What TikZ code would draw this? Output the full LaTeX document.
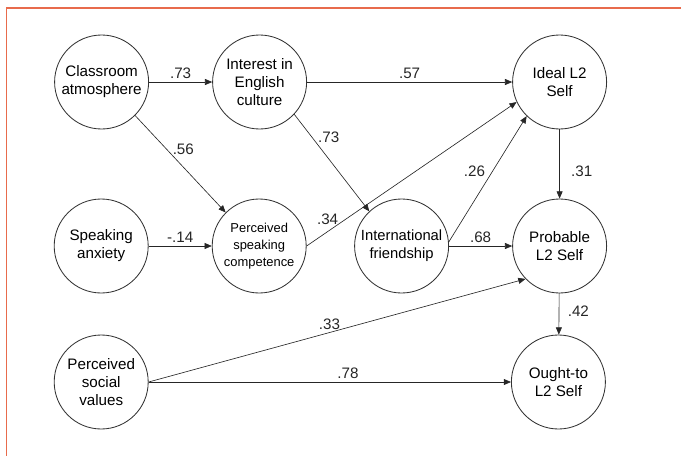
\documentclass[tikz,border=0pt]{standalone}
\usepackage{fontspec}
\setmainfont{Liberation Sans}
\usetikzlibrary{arrows.meta}
\definecolor{frameorange}{rgb}{0.91,0.42,0.30}
\definecolor{circlegray}{rgb}{0.20,0.20,0.20}
\tikzset{
  latent/.style={circle, draw=circlegray, line width=0.6pt, minimum size=2.35cm,
    inner sep=0pt, align=center, font=\fontsize{10.8}{12.8}\selectfont},
  path/.style={-{Triangle[length=1.8mm,width=1.5mm]}, line width=0.45pt, black!85},
  coef/.style={font=\fontsize{10.8}{12}\selectfont, inner sep=2pt}
}

\begin{document}
\begin{tikzpicture}
        \useasboundingbox (0,0) rectangle (17.025,-11.4);
        \draw[frameorange, line width=0.9pt] (0.17,-11.4) -- (0.17,-0.2) -- (17.025,-0.2);

        % predictors
        \node[latent] (class)    at (2.54,-2.05) {Classroom\\atmosphere};
        \node[latent] (anxiety)  at (2.53,-6.15) {Speaking\\anxiety};
        \node[latent] (social)   at (2.53,-9.55) {Perceived\\social\\values};

        % mediators
        \node[latent] (interest) at (6.49,-2.05) {Interest in\\English\\culture};
        \node[latent, font=\fontsize{9.2}{12.3}\selectfont]
                      (speakcomp) at (6.48,-6.15) {Perceived\\speaking\\competence};
        \node[latent, font=\fontsize{10.5}{12.8}\selectfont]
                      (friend)   at (10.04,-6.15) {International\\friendship};

        % selves
        \node[latent] (ideal)    at (13.99,-2.05) {Ideal L2\\Self};
        \node[latent] (probable) at (13.99,-6.15) {Probable\\L2 Self};
        \node[latent] (ought)    at (13.96,-9.55) {Ought-to\\L2 Self};

        \draw[path] (class) -- (interest) node[coef, midway, above]{.73};
        \draw[path] (class.-45) -- (speakcomp.135) node[coef, pos=0.35, right=2pt]{.56};
        \draw[path] (anxiety) -- (speakcomp) node[coef, midway, above]{-.14};
        \draw[path] (interest) -- (ideal) node[coef, midway, above]{.57};
        \draw[path] (interest.-43) -- (friend.133) node[coef, pos=0.24, right=2pt]{.73};
        \draw[path] (speakcomp.east) -- (ideal.205) node[coef, pos=0.1, above=3pt]{.34};
        \draw[path] (friend.5) -- (ideal.226) node[coef, pos=0.56, left=3pt]{.26};
        \draw[path] (friend) -- (probable) node[coef, midway, above]{.68};
        \draw[path] (ideal) -- (probable) node[coef, pos=0.6, right=6pt]{.31};
        \draw[path] (probable) -- (ought) node[coef, pos=0.43, right=4pt]{.42};
        \draw[path] (social.east) -- (probable.224) node[coef, pos=0.48, above]{.33};
        \draw[path] (social) -- (ought) node[coef, pos=0.55, above]{.78};
      \end{tikzpicture}
\end{document}
